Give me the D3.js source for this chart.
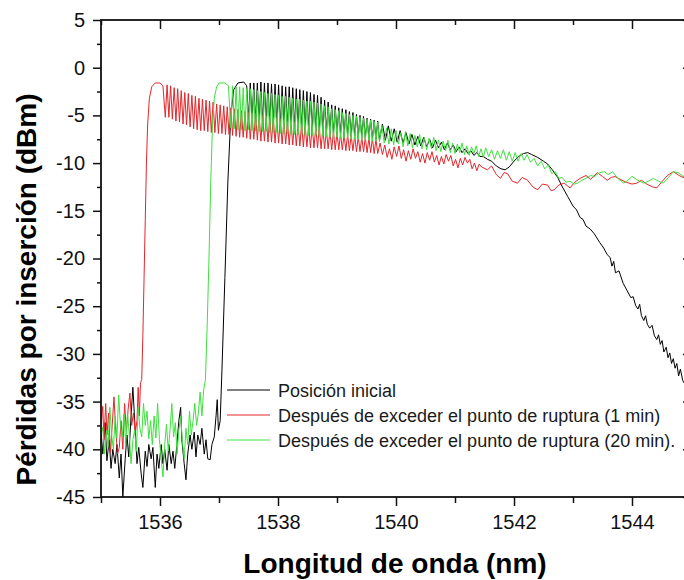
<!DOCTYPE html>
<html><head><meta charset="utf-8">
<script src="https://cdn.jsdelivr.net/npm/d3@7/dist/d3.min.js"></script>
<style>
body{margin:0;background:#fff}
svg{display:block}
text{font-family:"Liberation Sans",Arial,Helvetica,sans-serif}
</style>
</head><body>
<svg id="chart" width="684" height="580"></svg>
<script>
// ---------- labels ----------
const xTitle = "Longitud de onda (nm)";
const yTitle = "Pérdidas por inserción (dBm)";
const seriesNames = ["Posición inicial",
  "Después de exceder el punto de ruptura (1 min)",
  "Después de exceder el punto de ruptura (20 min)."];
const seriesColors = ["#000000", "#e3262b", "#3fe03f"];
const xMajorTicks = [1536, 1538, 1540, 1542, 1544];
const xMinorTicks = [1535, 1537, 1539, 1541, 1543, 1545];
const yMajorTicks = [5, 0, -5, -10, -15, -20, -25, -30, -35, -40, -45];
const yMinorTicks = [2.5, -2.5, -7.5, -12.5, -17.5, -22.5, -27.5, -32.5, -37.5, -42.5];

// ---------- data: [wavelength nm, dBm] ----------
const blackData = [
[1535.00,-38.0],[1535.03,-40.5],[1535.07,-37.2],[1535.10,-41.2],[1535.14,-39.0],[1535.17,-42.0],[1535.20,-40.0],[1535.24,-41.5],
[1535.27,-39.5],[1535.31,-43.0],[1535.34,-40.5],[1535.37,-45.0],[1535.41,-41.0],[1535.44,-38.5],[1535.47,-40.8],[1535.51,-36.5],
[1535.54,-33.5],[1535.58,-38.0],[1535.61,-41.5],[1535.64,-39.8],[1535.68,-42.5],[1535.71,-44.0],[1535.75,-40.2],[1535.78,-41.8],
[1535.81,-39.5],[1535.85,-41.0],[1535.88,-39.8],[1535.92,-44.0],[1535.95,-40.5],[1535.98,-42.0],[1536.02,-39.5],[1536.05,-41.5],
[1536.08,-40.0],[1536.12,-42.2],[1536.15,-39.5],[1536.19,-41.5],[1536.22,-40.2],[1536.25,-42.0],[1536.29,-39.2],[1536.32,-37.0],
[1536.35,-35.6],[1536.37,-39.0],[1536.41,-41.5],[1536.44,-43.2],[1536.47,-40.5],[1536.51,-38.5],[1536.54,-40.0],[1536.58,-38.2],
[1536.61,-40.8],[1536.64,-38.5],[1536.68,-39.5],[1536.71,-37.8],[1536.75,-40.5],[1536.78,-39.0],[1536.81,-41.0],[1536.85,-41.1],
[1536.88,-39.5],[1536.92,-38.7],[1536.95,-36.5],[1536.97,-34.8],[1536.99,-38.0],[1537.02,-37.0],
[1537.05,-31.7],[1537.10,-22.0],[1537.15,-12.0],[1537.20,-5.0],[1537.25,-2.3],[1537.32,-1.6],[1537.42,-1.5],[1537.47,-1.9],
[1537.50,-5.5],[1537.53,-1.6],[1537.56,-5.7],[1537.59,-1.6],[1537.62,-5.8],[1537.65,-1.6],[1537.68,-5.9],[1537.71,-1.5],
[1537.74,-6.0],[1537.77,-1.6],[1537.80,-6.0],[1537.83,-1.6],[1537.86,-6.1],[1537.89,-1.7],[1537.92,-6.2],[1537.95,-1.7],
[1537.98,-6.2],[1538.01,-1.8],[1538.04,-6.3],[1538.07,-1.9],[1538.10,-6.3],[1538.13,-2.0],[1538.16,-6.4],[1538.19,-2.0],
[1538.22,-6.4],[1538.25,-2.1],[1538.28,-6.5],[1538.31,-2.2],[1538.34,-6.5],[1538.37,-2.3],[1538.40,-6.6],[1538.43,-2.4],
[1538.46,-6.6],[1538.49,-2.5],[1538.52,-6.6],[1538.55,-2.6],[1538.58,-6.7],[1538.61,-2.8],[1538.64,-6.7],[1538.67,-2.9],
[1538.70,-6.8],[1538.73,-3.1],[1538.76,-6.8],[1538.79,-3.4],[1538.82,-6.9],[1538.85,-3.6],[1538.88,-6.9],[1538.91,-3.9],
[1538.94,-7.0],[1538.97,-4.0],[1539.00,-7.0],[1539.03,-4.2],[1539.06,-7.0],[1539.09,-4.3],[1539.12,-7.1],[1539.15,-4.4],
[1539.18,-7.1],[1539.21,-4.6],[1539.24,-7.2],[1539.27,-4.7],[1539.30,-7.2],[1539.33,-4.9],[1539.36,-7.3],[1539.39,-5.0],
[1539.42,-7.3],[1539.45,-5.1],[1539.48,-7.4],[1539.51,-5.3],[1539.54,-7.4],[1539.57,-5.4],[1539.60,-7.5],[1539.63,-5.5],
[1539.66,-7.5],[1539.69,-5.6],[1539.72,-7.6],
[1539.77,-5.9],[1539.82,-7.6],[1539.87,-6.1],[1539.92,-7.7],[1539.97,-6.4],[1540.02,-7.8],[1540.07,-6.6],[1540.12,-7.9],
[1540.17,-6.8],[1540.22,-8.0],[1540.27,-7.0],[1540.32,-8.1],[1540.37,-7.2],[1540.42,-8.2],[1540.47,-7.3],[1540.52,-8.3],
[1540.57,-7.5],[1540.62,-8.4],[1540.67,-7.6],[1540.72,-8.4],[1540.77,-7.8],[1540.82,-8.6],[1540.87,-7.9],[1540.92,-8.6],
[1540.97,-8.1],[1541.02,-8.8],[1541.07,-8.3],[1541.12,-8.9],[1541.17,-8.5],[1541.22,-9.0],[1541.27,-8.7],[1541.32,-9.2],
[1541.37,-8.9],[1541.42,-9.3],[1541.48,-9.3],[1541.55,-9.6],[1541.62,-9.8],[1541.70,-10.3],[1541.78,-10.6],[1541.85,-10.7],
[1541.92,-10.4],[1542.00,-9.8],[1542.08,-9.3],[1542.16,-9.0],[1542.23,-8.9],[1542.30,-9.1],[1542.40,-9.4],[1542.50,-9.8],
[1542.57,-10.1],[1542.65,-10.7],[1542.74,-11.5],[1542.82,-12.5],[1542.91,-13.5],[1543.00,-14.5],[1543.06,-14.9],[1543.12,-15.7],
[1543.17,-15.9],[1543.22,-16.6],[1543.29,-16.9],[1543.36,-17.4],[1543.45,-18.3],[1543.52,-18.9],[1543.58,-19.6],[1543.63,-19.9],
[1543.66,-20.8],[1543.69,-20.3],[1543.72,-21.5],[1543.78,-21.3],[1543.85,-22.6],[1543.92,-23.4],[1543.98,-24.1],[1544.02,-24.0],
[1544.06,-24.9],[1544.10,-25.3],[1544.13,-24.8],[1544.16,-26.0],[1544.20,-26.5],[1544.23,-26.0],[1544.26,-26.9],[1544.30,-27.3],
[1544.34,-27.0],[1544.38,-28.1],[1544.42,-28.5],[1544.45,-28.0],[1544.48,-29.0],[1544.51,-28.6],[1544.54,-29.8],[1544.58,-29.3],
[1544.61,-30.4],[1544.64,-29.9],[1544.67,-31.0],[1544.70,-30.5],[1544.73,-31.5],[1544.76,-31.0],[1544.79,-32.3],[1544.82,-31.6],
[1544.86,-32.8],[1544.90,-33.2],[1544.95,-33.6],[1545.00,-34.0]
];

const redData = [
[1535.00,-37.5],[1535.03,-35.5],[1535.05,-39.0],[1535.08,-35.2],[1535.10,-38.5],[1535.13,-36.2],[1535.16,-40.4],[1535.19,-37.5],
[1535.22,-34.5],[1535.25,-38.0],[1535.28,-40.5],[1535.31,-39.8],[1535.34,-37.0],[1535.37,-40.0],[1535.40,-35.2],[1535.43,-38.1],
[1535.46,-35.8],[1535.49,-34.1],[1535.52,-37.5],[1535.55,-36.2],[1535.58,-38.3],[1535.61,-37.0],[1535.63,-33.5],[1535.65,-36.5],
[1535.67,-33.0],[1535.69,-32.7],
[1535.71,-28.0],[1535.73,-22.0],[1535.75,-16.0],[1535.77,-10.0],[1535.79,-6.0],[1535.82,-3.2],[1535.86,-2.0],[1535.92,-1.6],
[1536.00,-1.6],[1536.05,-1.9],[1536.09,-5.2],
[1536.12,-1.8],[1536.15,-5.2],[1536.18,-1.9],[1536.21,-5.4],[1536.24,-2.1],[1536.27,-5.6],[1536.30,-2.2],[1536.33,-5.7],
[1536.36,-2.4],[1536.39,-5.9],[1536.42,-2.6],[1536.45,-6.0],[1536.48,-2.7],[1536.51,-6.2],[1536.54,-2.9],[1536.57,-6.4],
[1536.60,-3.0],[1536.63,-6.5],[1536.66,-3.2],[1536.69,-6.6],[1536.72,-3.3],[1536.75,-6.6],[1536.78,-3.4],[1536.81,-6.7],
[1536.84,-3.5],[1536.87,-6.8],[1536.90,-3.6],[1536.93,-6.8],[1536.96,-3.8],[1536.99,-6.9],[1537.02,-3.9],[1537.05,-6.9],
[1537.08,-4.0],[1537.11,-7.0],[1537.14,-4.1],[1537.17,-7.0],[1537.20,-4.2],[1537.23,-7.1],[1537.26,-4.3],[1537.29,-7.2],
[1537.32,-4.4],[1537.35,-7.3],[1537.38,-4.5],[1537.41,-7.3],[1537.44,-4.6],[1537.47,-7.4],[1537.50,-4.7],[1537.53,-7.5],
[1537.56,-4.8],[1537.59,-7.5],[1537.62,-4.8],[1537.65,-7.6],[1537.68,-4.9],[1537.71,-7.7],[1537.74,-5.0],[1537.77,-7.7],
[1537.80,-5.1],[1537.83,-7.8],[1537.86,-5.1],[1537.89,-7.8],[1537.92,-5.2],[1537.95,-7.9],[1537.98,-5.3],[1538.01,-7.9],
[1538.04,-5.4],[1538.07,-8.0],[1538.10,-5.5],[1538.13,-8.0],[1538.16,-5.6],[1538.19,-8.1],[1538.22,-5.7],[1538.25,-8.1],
[1538.28,-5.7],[1538.31,-8.2],[1538.34,-5.8],[1538.37,-8.2],[1538.40,-5.9],[1538.43,-8.3],[1538.46,-6.0],[1538.49,-8.3],
[1538.52,-6.0],[1538.55,-8.4],[1538.58,-6.1],[1538.61,-8.4],[1538.64,-6.2],[1538.67,-8.4],[1538.70,-6.2],[1538.73,-8.5],
[1538.76,-6.4],[1538.79,-8.5],[1538.82,-6.5],[1538.85,-8.5],[1538.88,-6.6],[1538.91,-8.6],[1538.94,-6.7],[1538.97,-8.6],
[1539.00,-6.8],[1539.03,-8.6],[1539.06,-6.9],[1539.09,-8.6],[1539.12,-7.0],[1539.15,-8.7],[1539.18,-7.0],[1539.21,-8.7],
[1539.24,-7.1],[1539.27,-8.7],[1539.30,-7.1],[1539.33,-8.8],[1539.36,-7.2],[1539.39,-8.8],[1539.42,-7.3],[1539.45,-8.8],
[1539.48,-7.3],[1539.51,-8.9],[1539.54,-7.4],[1539.57,-8.9],[1539.60,-7.4],[1539.63,-9.0],[1539.66,-7.5],[1539.69,-9.0],
[1539.73,-7.9],[1539.77,-9.1],[1539.81,-8.1],[1539.85,-9.4],[1539.89,-8.5],[1539.93,-9.6],[1539.97,-8.3],[1540.01,-9.3],
[1540.05,-8.2],[1540.09,-9.5],[1540.13,-8.6],[1540.17,-9.8],[1540.21,-8.7],[1540.25,-9.6],[1540.29,-8.5],[1540.33,-9.5],
[1540.37,-8.8],[1540.41,-9.9],[1540.45,-9.0],[1540.49,-10.0],[1540.53,-8.9],[1540.57,-9.7],[1540.61,-8.8],[1540.65,-9.9],
[1540.69,-9.2],[1540.73,-10.2],[1540.77,-9.3],[1540.81,-10.1],[1540.85,-9.1],[1540.89,-9.8],[1540.93,-9.2],[1540.97,-10.3],
[1541.01,-9.6],[1541.05,-10.5],[1541.09,-9.5],[1541.13,-10.2],[1541.17,-9.4],[1541.21,-10.0],[1541.25,-9.6],[1541.29,-10.6],
[1541.33,-10.0],[1541.37,-10.8],[1541.41,-10.1],[1541.45,-10.4],
[1541.55,-10.7],[1541.62,-10.3],[1541.70,-11.2],[1541.77,-11.6],[1541.83,-11.0],[1541.89,-11.1],[1541.97,-11.9],[1542.06,-12.1],
[1542.14,-11.5],[1542.23,-11.8],[1542.32,-12.5],[1542.40,-12.8],[1542.48,-12.2],[1542.57,-12.3],[1542.63,-12.9],[1542.68,-12.8],
[1542.76,-12.3],[1542.85,-12.1],[1542.95,-12.6],[1543.03,-12.0],[1543.12,-11.6],[1543.22,-11.3],[1543.30,-11.7],[1543.41,-11.0],
[1543.50,-11.4],[1543.58,-11.8],[1543.65,-11.5],[1543.71,-11.4],[1543.80,-11.7],[1543.90,-12.0],[1544.00,-12.2],[1544.08,-12.1],
[1544.16,-11.8],[1544.25,-12.2],[1544.35,-12.5],[1544.42,-12.6],[1544.50,-12.0],[1544.60,-11.3],[1544.70,-10.9],[1544.80,-11.3],
[1544.90,-11.6],[1545.00,-11.8]
];

const greenData = [
[1535.00,-38.5],[1535.03,-37.7],[1535.06,-40.5],[1535.09,-38.0],[1535.12,-39.8],[1535.15,-35.6],[1535.18,-38.5],[1535.21,-40.0],
[1535.24,-36.5],[1535.27,-38.8],[1535.30,-34.3],[1535.33,-37.5],[1535.36,-38.7],[1535.39,-36.3],[1535.42,-39.5],[1535.45,-36.1],
[1535.48,-38.6],[1535.51,-41.5],[1535.54,-39.0],[1535.57,-38.0],[1535.60,-40.2],[1535.63,-35.6],[1535.66,-37.8],[1535.69,-38.7],
[1535.72,-35.2],[1535.75,-37.5],[1535.78,-36.0],[1535.81,-38.9],[1535.84,-37.0],[1535.87,-39.5],[1535.90,-36.5],[1535.93,-38.8],
[1535.96,-35.2],[1535.99,-39.0],[1536.02,-41.0],[1536.05,-42.9],[1536.08,-39.5],[1536.11,-37.4],[1536.14,-40.2],[1536.17,-38.0],
[1536.20,-35.2],[1536.23,-38.7],[1536.26,-37.2],[1536.29,-40.5],[1536.32,-38.0],[1536.35,-36.5],[1536.38,-39.2],[1536.41,-41.0],
[1536.44,-37.8],[1536.47,-39.5],[1536.50,-36.0],[1536.53,-38.5],[1536.56,-37.0],[1536.59,-35.2],[1536.62,-37.5],[1536.65,-36.2],
[1536.68,-34.0],[1536.71,-36.5],[1536.74,-33.8],[1536.77,-32.7],
[1536.80,-27.0],[1536.83,-20.0],[1536.86,-12.0],[1536.89,-6.0],[1536.92,-3.2],[1536.96,-2.0],[1537.00,-1.6],[1537.10,-1.6],[1537.16,-1.9],
[1537.20,-6.3],[1537.23,-1.9],[1537.26,-6.4],[1537.29,-2.0],[1537.32,-6.5],[1537.35,-2.0],[1537.38,-6.5],[1537.41,-2.1],
[1537.44,-6.6],[1537.47,-2.2],[1537.50,-6.5],[1537.53,-2.2],[1537.56,-6.6],[1537.59,-2.3],[1537.62,-6.6],[1537.65,-2.4],
[1537.68,-6.7],[1537.71,-2.5],[1537.74,-6.7],[1537.77,-2.6],[1537.80,-6.7],[1537.83,-2.7],[1537.86,-6.8],[1537.89,-2.7],
[1537.92,-6.8],[1537.95,-2.8],[1537.98,-6.8],[1538.01,-2.9],[1538.04,-6.9],[1538.07,-3.0],[1538.10,-6.9],[1538.13,-3.0],
[1538.16,-6.9],[1538.19,-3.1],[1538.22,-7.0],[1538.25,-3.2],[1538.28,-7.0],[1538.31,-3.3],[1538.34,-7.0],[1538.37,-3.3],
[1538.40,-7.0],[1538.43,-3.4],[1538.46,-7.1],[1538.49,-3.5],[1538.52,-7.1],[1538.55,-3.5],[1538.58,-7.1],[1538.61,-3.6],
[1538.64,-7.1],[1538.67,-3.7],[1538.70,-7.2],[1538.73,-3.8],[1538.76,-7.2],[1538.79,-4.0],[1538.82,-7.2],[1538.85,-4.1],
[1538.88,-7.3],[1538.91,-4.3],[1538.94,-7.3],[1538.97,-4.4],[1539.00,-7.3],[1539.03,-4.5],[1539.06,-7.4],[1539.09,-4.7],
[1539.12,-7.4],[1539.15,-4.8],[1539.18,-7.4],[1539.21,-4.9],[1539.24,-7.5],[1539.27,-5.0],[1539.30,-7.5],[1539.33,-5.1],
[1539.36,-7.5],[1539.39,-5.2],[1539.42,-7.6],[1539.45,-5.3],[1539.48,-7.6],[1539.51,-5.4],[1539.54,-7.6],[1539.57,-5.5],
[1539.60,-7.7],[1539.63,-5.6],[1539.66,-7.7],[1539.69,-5.7],[1539.72,-7.8],
[1539.76,-6.0],[1539.80,-7.9],[1539.84,-6.3],[1539.88,-8.0],[1539.92,-6.4],[1539.96,-8.1],[1540.00,-6.6],[1540.04,-8.0],
[1540.08,-6.8],[1540.12,-8.3],[1540.16,-6.7],[1540.20,-8.2],[1540.24,-6.9],[1540.28,-8.4],[1540.32,-7.1],[1540.36,-8.3],
[1540.40,-7.0],[1540.44,-8.5],[1540.48,-7.3],[1540.52,-8.6],[1540.56,-7.4],[1540.60,-8.5],[1540.64,-7.3],[1540.68,-8.7],
[1540.72,-7.6],[1540.76,-8.8],[1540.80,-7.7],[1540.84,-8.7],[1540.88,-7.6],[1540.92,-8.9],[1540.96,-7.9],[1541.00,-9.0],
[1541.04,-8.0],[1541.08,-8.9],[1541.12,-7.9],[1541.16,-9.1],[1541.20,-8.2],[1541.24,-9.2],[1541.28,-8.3],[1541.32,-9.0],
[1541.36,-8.2],[1541.40,-9.3],[1541.44,-8.5],[1541.48,-9.4],
[1541.52,-8.4],[1541.57,-9.3],[1541.62,-8.6],[1541.67,-9.6],[1541.72,-8.7],[1541.77,-9.5],[1541.82,-8.6],[1541.87,-9.7],
[1541.92,-8.8],[1541.97,-9.8],[1542.02,-8.9],[1542.07,-9.8],[1542.12,-9.0],[1542.17,-9.7],[1542.22,-9.1],[1542.28,-9.9],
[1542.34,-9.5],[1542.40,-10.3],[1542.46,-9.8],[1542.52,-10.6],[1542.58,-10.2],[1542.64,-11.1],[1542.70,-10.9],[1542.76,-11.6],
[1542.82,-11.5],[1542.88,-12.0],[1542.95,-11.9],[1543.02,-12.2],[1543.08,-12.1],[1543.15,-11.8],[1543.22,-11.6],[1543.30,-11.3],
[1543.36,-11.4],[1543.45,-11.0],[1543.53,-10.9],[1543.60,-11.2],[1543.67,-10.9],[1543.76,-11.6],[1543.86,-12.1],[1543.93,-11.8],
[1544.00,-11.4],[1544.10,-11.8],[1544.20,-12.1],[1544.28,-11.9],[1544.36,-11.6],[1544.45,-11.9],[1544.53,-12.1],[1544.62,-11.5],
[1544.70,-10.9],[1544.78,-11.0],[1544.85,-11.3],[1544.92,-11.6],[1545.00,-11.5]
];

// ---------- drawing ----------
const svg = d3.select("#chart");
const W = 684, H = 580;
svg.append("rect").attr("width", W).attr("height", H).attr("fill", "#fff");

const x = d3.scaleLinear().domain([1535, 1545]).range([101, 691]);
const y = d3.scaleLinear().domain([-45, 5]).range([497, 20]);

svg.append("defs").append("clipPath").attr("id", "plotclip")
  .append("rect").attr("x", x(1535)).attr("y", y(5))
  .attr("width", x(1545) - x(1535)).attr("height", y(-45) - y(5));

const line = d3.line().x(d => x(d[0])).y(d => y(d[1]));
const plot = svg.append("g").attr("clip-path", "url(#plotclip)");
const allSeries = [blackData, redData, greenData];
allSeries.forEach((data, i) => {
  plot.append("path").datum(data)
    .attr("d", line)
    .attr("fill", "none")
    .attr("stroke", seriesColors[i])
    .attr("stroke-width", 1)
    .attr("stroke-linejoin", "round");
});

// axes (hyphen-minus labels, as in the reference)
const plainFormat = d => String(d);
function styleAxis(g) {
  g.select(".domain").remove();
  g.selectAll(".tick line").attr("stroke", "#111").attr("stroke-width", 1.5);
  g.selectAll(".tick text").attr("fill", "#111").style("font-size", "20px")
    .style("font-family", '"Liberation Sans", Arial, sans-serif');
}
// left
svg.append("g").attr("transform", `translate(${x(1535)},0)`)
  .call(d3.axisLeft(y).tickValues(yMajorTicks).tickSize(8).tickPadding(8).tickFormat(plainFormat))
  .call(styleAxis);
svg.append("g").attr("transform", `translate(${x(1535)},0)`)
  .call(d3.axisLeft(y).tickValues(yMinorTicks).tickSize(4).tickFormat(""))
  .call(styleAxis);
// right (inward)
svg.append("g").attr("transform", `translate(${x(1545)},0)`)
  .call(d3.axisRight(y).tickValues(yMajorTicks).tickSize(-8).tickFormat(""))
  .call(styleAxis);
svg.append("g").attr("transform", `translate(${x(1545)},0)`)
  .call(d3.axisRight(y).tickValues(yMinorTicks).tickSize(-4).tickFormat(""))
  .call(styleAxis);
// bottom
svg.append("g").attr("transform", `translate(0,${y(-45)})`)
  .call(d3.axisBottom(x).tickValues(xMajorTicks).tickSize(9).tickPadding(9).tickFormat(plainFormat))
  .call(styleAxis);
svg.append("g").attr("transform", `translate(0,${y(-45)})`)
  .call(d3.axisBottom(x).tickValues(xMinorTicks).tickSize(6).tickFormat(""))
  .call(styleAxis);
// top (inward)
svg.append("g").attr("transform", `translate(0,${y(5)})`)
  .call(d3.axisTop(x).tickValues(xMajorTicks).tickSize(-9).tickFormat(""))
  .call(styleAxis);
svg.append("g").attr("transform", `translate(0,${y(5)})`)
  .call(d3.axisTop(x).tickValues(xMinorTicks).tickSize(-5).tickFormat(""))
  .call(styleAxis);

// frame
svg.append("rect")
  .attr("x", x(1535)).attr("y", y(5))
  .attr("width", x(1545) - x(1535)).attr("height", y(-45) - y(5))
  .attr("fill", "none").attr("stroke", "#111").attr("stroke-width", 1.8);

// titles
svg.append("text").text(xTitle)
  .attr("x", (x(1535) + x(1545)) / 2 - 1).attr("y", 573)
  .attr("text-anchor", "middle")
  .style("font-size", "28px").style("font-weight", "bold").attr("fill", "#000");
svg.append("text").text(yTitle)
  .attr("transform", `translate(36,${(y(5) + y(-45)) / 2 + 31}) rotate(-90)`)
  .attr("text-anchor", "middle")
  .style("font-size", "28px").style("font-weight", "bold").attr("fill", "#000");

// legend
const legend = svg.append("g");
seriesNames.forEach((name, i) => {
  const ly = 390 + i * 25;
  legend.append("line").attr("x1", 227).attr("x2", 270).attr("y1", ly).attr("y2", ly)
    .attr("stroke", seriesColors[i]).attr("stroke-width", 1);
  legend.append("text").text(name).attr("x", 278).attr("y", ly + 6.5)
    .style("font-size", "18px").attr("fill", "#1a1a1a");
});
</script>
</body></html>
